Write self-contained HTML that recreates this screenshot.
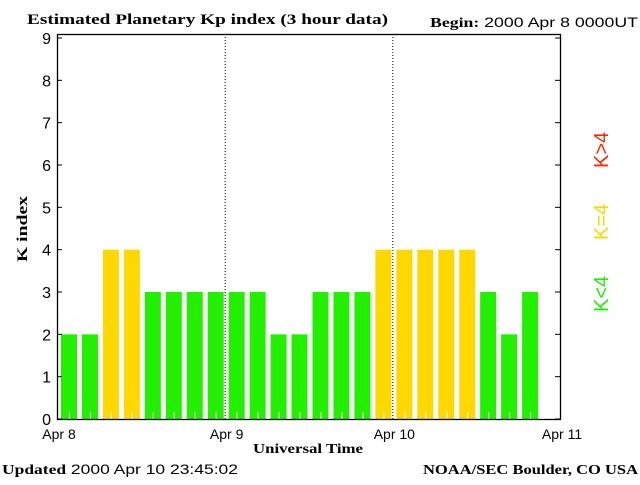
<!DOCTYPE html>
<html><head><meta charset="utf-8"><style>
body{margin:0;background:#fff;width:640px;height:480px;overflow:hidden}
svg text{font-family:"Liberation Sans",sans-serif}
.serif{font-family:"Liberation Serif",serif;font-weight:bold}
</style></head><body>
<svg id="chart" width="640" height="480" xmlns="http://www.w3.org/2000/svg">
<text class="serif" x="27" y="24" font-size="15" textLength="361" lengthAdjust="spacingAndGlyphs">Estimated Planetary Kp index (3 hour data)</text>
<text x="430" y="27" font-size="14" textLength="208" lengthAdjust="spacingAndGlyphs"><tspan style="font-family:'Liberation Serif',serif;font-weight:bold">Begin:</tspan>  2000 Apr 8 0000UT</text>
<text class="serif" x="27" y="262" font-size="15" textLength="66" lengthAdjust="spacingAndGlyphs" transform="rotate(-90 27 262)">K index</text>
<text class="serif" x="253" y="453" font-size="14" textLength="110" lengthAdjust="spacingAndGlyphs">Universal Time</text>
<text x="2" y="474" font-size="14" textLength="236" lengthAdjust="spacingAndGlyphs"><tspan style="font-family:'Liberation Serif',serif;font-weight:bold">Updated</tspan> 2000 Apr 10 23:45:02</text>
<text class="serif" x="423" y="474" font-size="14" textLength="215" lengthAdjust="spacingAndGlyphs">NOAA/SEC Boulder, CO USA</text>
<g id="bars"></g>
<g id="axes"></g>
<text x="608" y="312" font-size="20" fill="#22f000" transform="rotate(-90 608 312)">K&lt;4</text>
<text x="608" y="240" font-size="20" fill="#ffd800" transform="rotate(-90 608 240)">K=4</text>
<text x="608" y="168" font-size="20" fill="#ff2800" transform="rotate(-90 608 168)">K&gt;4</text>
</svg>
<script>
const kpValues=[2,2,4,4,3,3,3,3,3,3,2,2,3,3,3,4,4,4,4,4,3,2,3];
const yTicks=[0,1,2,3,4,5,6,7,8,9];
const dayLabels=["Apr 8","Apr 9","Apr 10","Apr 11"];
const NS="http://www.w3.org/2000/svg";
const X0=57,X1=560,Y0=419,YT=34;
function xs(slot){return X0+slot*(X1-X0)/24;}
function ys(v){return Y0-v*(Y0-38)/9;}
function mk(t,a,p){const e=document.createElementNS(NS,t);for(const k in a)e.setAttribute(k,a[k]);p.appendChild(e);return e;}
const bars=document.getElementById('bars'),axes=document.getElementById('axes');
kpValues.forEach((v,i)=>{
 const c=v<4?'#22f000':(v==4?'#ffd800':'#ff2800');
 const r=mk('rect',{x:xs(i)+4,y:ys(v),width:16,height:Y0-ys(v),fill:c},bars);
 
 
 const t=mk('line',{x1:xs(i)+12.5,x2:xs(i)+12.5,y1:Y0,y2:Y0-7,stroke:'#fff','stroke-width':1},bars);
 
 
});
[1,2].forEach(d=>{const l=mk('line',{x1:xs(d*8)+0.5,x2:xs(d*8)+0.5,y1:YT,y2:Y0,stroke:'#000','stroke-dasharray':'1,2'},axes);
 
 });
const box=mk('rect',{x:X0+0.5,y:YT+0.5,width:X1-X0,height:Y0-YT,fill:'none',stroke:'#000','stroke-width':1.3},axes);


yTicks.forEach(v=>{
 const y=ys(v);
 mk('line',{x1:X0,x2:X0+5,y1:y,y2:y,stroke:'#000'},axes);
 mk('line',{x1:X1-5,x2:X1,y1:y,y2:y,stroke:'#000'},axes);
 const t=mk('text',{x:X0-6,y:y+6,'font-size':16,'text-anchor':'end'},axes);t.textContent=v;
 
 
});
dayLabels.forEach((d,i)=>{
 const t=mk('text',{x:xs(i*8)+2,y:439,'font-size':14,'text-anchor':'middle'},axes);t.textContent=d;
 
 
});
</script>
</body></html>
